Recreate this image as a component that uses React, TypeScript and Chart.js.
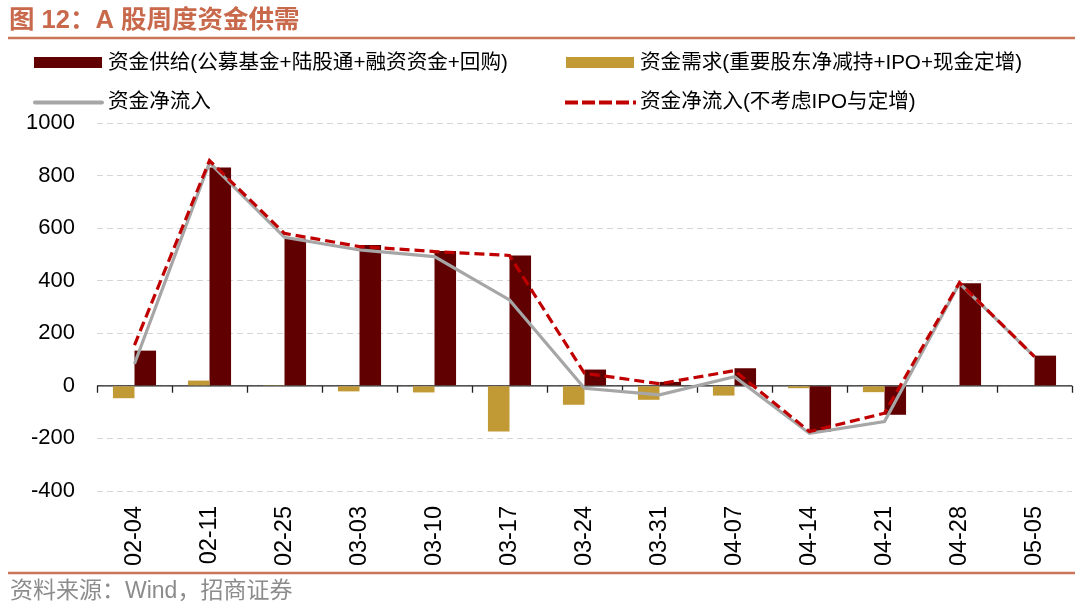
import React, { useEffect, useRef } from "react";
import { Chart, registerables } from "chart.js";

Chart.register(...registerables);

// Weekly A-share fund supply/demand (100 million CNY)
const categories = ["02-04", "02-11", "02-25", "03-03", "03-10", "03-17", "03-24", "03-31", "04-07", "04-14", "04-21", "04-28", "05-05"];
const supply = [134, 831, 560, 536, 513, 496, 62, 15, 67, -174, -110, 390, 115];
const demand = [-47, 20, 3, -21, -25, -174, -72, -53, -37, -9, -24, -2, -2];
const netFlow = [84, 849, 565, 517, 492, 327, -9, -34, 35, -181, -136, 390, 111];
const netFlowExIpo = [155, 857, 580, 530, 511, 496, 48, 8, 58, -174, -104, 393, 111];
const yTicks = { min: -400, max: 1000, step: 200 };

const titleText = "图 12：A 股周度资金供需";
const sourceText = "资料来源：Wind，招商证券";
const supplyLabel = "资金供给(公募基金+陆股通+融资资金+回购)";
const demandLabel = "资金需求(重要股东净减持+IPO+现金定增)";
const netLabel = "资金净流入";
const netExLabel = "资金净流入(不考虑IPO与定增)";

const FONT = '"Liberation Sans", "Noto Sans CJK SC", sans-serif';
const C_SUPPLY = "#600000";
const C_DEMAND = "#C19A36";
const C_NET = "#A6A6A6";
const C_NET_EX = "#C00000";
const C_ACCENT = "#CB7658";

const decorPlugin = {
  id: "decor",
  beforeDatasetsDraw(chart: any) {
    const { ctx, scales } = chart;
    const x = scales.x;
    const y = scales.y;
    const y0 = y.getPixelForValue(0);
    const n = categories.length;
    const w = (x.right - x.left) / n;
    ctx.save();
    ctx.strokeStyle = "#222";
    ctx.lineWidth = 1.3;
    ctx.beginPath();
    ctx.moveTo(x.left, y0);
    ctx.lineTo(x.right, y0);
    for (let i = 0; i <= n; i++) {
      const px = Math.round(x.getPixelForTick(Math.min(i, n - 1)) + (i === n ? w / 2 : -w / 2)) + 0.5;
      ctx.moveTo(px, y0);
      ctx.lineTo(px, y0 + 7);
    }
    ctx.stroke();
    ctx.restore();
  },
  afterDraw(chart: any) {
    const { ctx } = chart;
    ctx.save();
    // title
    ctx.fillStyle = "#C8694C";
    ctx.font = `bold 25.5px ${FONT}`;
    ctx.textBaseline = "middle";
    ctx.textAlign = "left";
    ctx.fillText(titleText, 9, 21);
    // rules
    ctx.strokeStyle = C_ACCENT;
    ctx.lineWidth = 2.5;
    ctx.beginPath();
    ctx.moveTo(8, 38);
    ctx.lineTo(1075, 38);
    ctx.moveTo(8, 573);
    ctx.lineTo(1075, 573);
    ctx.stroke();
    // legend
    ctx.fillStyle = C_SUPPLY;
    ctx.fillRect(34, 57, 68, 11);
    ctx.fillStyle = C_DEMAND;
    ctx.fillRect(566, 57, 68, 11);
    ctx.lineWidth = 4;
    ctx.strokeStyle = C_NET;
    ctx.lineCap = "round";
    ctx.beginPath();
    ctx.moveTo(35, 102.5);
    ctx.lineTo(102, 102.5);
    ctx.stroke();
    ctx.strokeStyle = C_NET_EX;
    ctx.lineCap = "butt";
    ctx.setLineDash([13, 4]);
    ctx.beginPath();
    ctx.moveTo(565, 102.5);
    ctx.lineTo(636, 102.5);
    ctx.stroke();
    ctx.setLineDash([]);
    ctx.font = `20.6px ${FONT}`;
    ctx.fillStyle = "#000";
    ctx.fillText(supplyLabel, 108, 63);
    ctx.fillText(demandLabel, 640, 63);
    ctx.fillText(netLabel, 108, 102);
    ctx.fillText(netExLabel, 640, 102);
    // source
    ctx.fillStyle = "#8C8C8C";
    ctx.font = `23px ${FONT}`;
    ctx.fillText(sourceText, 10, 592);
    ctx.restore();
  },
};

export default function App() {
  const ref = useRef<HTMLCanvasElement>(null);
  useEffect(() => {
    if (!ref.current) return;
    const chart = new Chart(ref.current, {
      type: "bar",
      data: {
        labels: categories,
        datasets: [
          {
            type: "line",
            label: netExLabel,
            data: netFlowExIpo,
            borderColor: C_NET_EX,
            borderWidth: 3.2,
            borderDash: [10, 5],
            pointRadius: 0,
            tension: 0,
            order: 0,
          },
          {
            type: "line",
            label: netLabel,
            data: netFlow,
            borderColor: C_NET,
            borderWidth: 3.2,
            pointRadius: 0,
            tension: 0,
            order: 1,
          },
          {
            type: "bar",
            label: demandLabel,
            data: demand,
            backgroundColor: C_DEMAND,
            barPercentage: 1,
            categoryPercentage: 0.575,
            order: 2,
          },
          {
            type: "bar",
            label: supplyLabel,
            data: supply,
            backgroundColor: C_SUPPLY,
            barPercentage: 1,
            categoryPercentage: 0.575,
            order: 3,
          },
        ],
      },
      options: {
        responsive: false,
        animation: false,
        events: [],
        layout: { padding: { left: 0, right: 8, top: 123, bottom: 0 } },
        plugins: { legend: { display: false }, tooltip: { enabled: false }, title: { display: false } },
        scales: {
          x: {
            type: "category",
            offset: true,
            grid: { display: false, drawTicks: false, offset: true },
            border: { display: false },
            ticks: {
              autoSkip: false,
              minRotation: 90,
              maxRotation: 90,
              padding: 15,
              color: "#000",
              font: { family: FONT, size: 23.5 },
            },
            afterFit(scale: any) {
              scale.height = 119;
            },
          },
          y: {
            min: yTicks.min,
            max: yTicks.max,
            ticks: {
              stepSize: yTicks.step,
              padding: 22,
              color: "#000",
              font: { family: FONT, size: 22 },
              callback: (v: any) => String(v),
            },
            grid: { color: "#D6D6D6", lineWidth: 1, drawTicks: false },
            border: { display: false, dash: [6, 4] },
            afterFit(scale: any) {
              scale.width = 97;
            },
          },
        },
      },
      plugins: [decorPlugin],
    });
    return () => chart.destroy();
  }, []);
  return (
    <div style={{ position: "absolute", left: 0, top: 0, width: 1080, height: 610, background: "#fff" }}>
      <canvas ref={ref} width={1080} height={610} style={{ display: "block" }} />
    </div>
  );
}
